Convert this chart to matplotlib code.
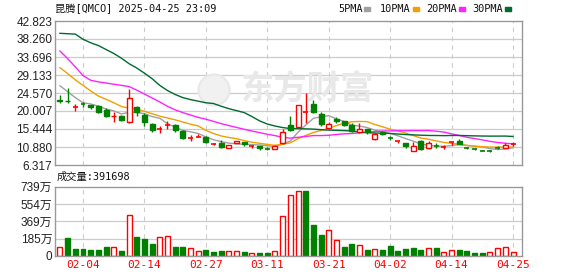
import matplotlib.pyplot as plt
from matplotlib.patches import Rectangle, Ellipse
import numpy as np

# daily K data, 2025-01-30 .. 2025-04-25 (60 sessions)
opens = [22.75, 22.60, 21.00, 21.80, 21.61, 21.27, 20.26, 18.62, 18.74, 17.22,
         21.10, 19.00, 16.79, 15.40, 16.35, 16.46, 14.94, 13.14, 13.33, 13.49,
         11.50, 11.98, 10.55, 11.89, 12.23, 11.05, 11.22, 10.55, 10.46, 11.82,
         16.38, 15.87, 19.60, 21.70, 19.17, 15.77, 18.06, 17.39, 16.46, 14.68,
         15.36, 13.00, 14.76, 13.25, 12.32, 11.82, 9.94, 12.32, 10.55, 11.30,
         10.75, 12.00, 12.48, 10.62, 10.36, 10.00, 9.94, 10.62, 10.63, 11.58]
highs = [23.99, 25.76, 21.78, 22.36, 21.61, 21.61, 20.77, 19.83, 18.91, 25.58,
         21.27, 19.42, 16.96, 16.20, 17.39, 16.79, 15.11, 14.00, 14.17, 13.67,
         11.85, 12.66, 11.31, 12.40, 12.23, 11.39, 11.22, 10.80, 11.39, 15.36,
         18.74, 21.53, 24.49, 22.80, 19.67, 17.30, 18.40, 17.55, 17.04, 16.89,
         15.36, 14.51, 15.02, 13.67, 12.40, 11.82, 12.23, 12.66, 12.32, 11.82,
         11.39, 12.07, 12.82, 10.85, 10.55, 10.12, 10.12, 11.05, 11.82, 12.23]
lows = [21.96, 22.11, 20.08, 20.94, 20.59, 19.58, 18.56, 17.14, 17.55, 16.89,
        18.82, 16.28, 14.76, 14.51, 15.44, 14.68, 12.99, 12.48, 13.33, 11.82,
        11.35, 10.71, 10.55, 11.89, 11.14, 10.55, 10.12, 10.12, 10.38, 11.64,
        14.94, 15.87, 17.04, 19.42, 16.20, 15.44, 17.04, 16.20, 14.76, 14.51,
        14.17, 12.66, 13.83, 12.66, 11.82, 10.71, 9.79, 10.12, 10.38, 10.71,
        10.29, 11.31, 11.64, 10.30, 10.04, 9.80, 9.62, 10.29, 10.63, 11.14]
closes = [22.60, 22.47, 21.10, 21.70, 21.10, 19.83, 18.82, 18.80, 17.73, 23.22,
          19.67, 17.22, 15.11, 15.52, 16.46, 15.19, 13.24, 13.24, 13.41, 12.07,
          11.57, 10.96, 11.31, 12.40, 11.57, 11.10, 10.55, 10.46, 11.22, 14.60,
          15.19, 21.53, 19.67, 19.67, 16.63, 16.63, 17.39, 16.46, 14.94, 15.52,
          14.68, 14.25, 14.17, 13.16, 12.40, 11.14, 11.05, 10.29, 11.82, 11.22,
          10.80, 12.07, 11.64, 10.55, 10.29, 9.94, 9.87, 10.55, 11.31, 11.64]

# volume in 万 shares, and whether the bar is drawn as "up" (red)
volumes = [92, 192, 75, 75, 64, 64, 96, 96, 53, 434,
           203, 181, 128, 199, 210, 96, 96, 82, 50, 64,
           43, 50, 50, 50, 43, 28, 28, 28, 50, 423,
           647, 690, 697, 331, 224, 274, 167, 96, 128, 121,
           64, 71, 64, 107, 53, 75, 85, 64, 82, 82,
           39, 60, 64, 53, 32, 32, 39, 82, 92, 39.1698]
vol_up = [1, 0, 0, 0, 0, 0, 0, 1, 0, 1,
          0, 0, 0, 1, 1, 0, 0, 1, 1, 0,
          0, 0, 1, 1, 0, 1, 0, 0, 1, 1,
          1, 1, 0, 0, 0, 1, 1, 0, 0, 1,
          0, 1, 0, 0, 0, 0, 0, 0, 1, 0,
          1, 1, 0, 0, 0, 0, 1, 1, 1, 1]

ma5 = [26.4, 24.9, 23.4, 22.1, 21.79, 21.24, 20.51, 20.05, 19.26, 19.68,
       19.65, 19.33, 18.59, 18.15, 16.80, 15.90, 15.10, 14.73, 14.31, 13.43,
       12.71, 12.25, 11.86, 11.66, 11.56, 11.47, 11.39, 11.22, 10.98, 11.59,
       12.40, 14.60, 16.44, 18.13, 18.54, 18.83, 18.00, 17.36, 16.41, 16.19,
       15.80, 15.17, 14.71, 14.36, 13.73, 13.02, 12.38, 11.61, 11.34, 11.10,
       11.04, 11.24, 11.51, 11.26, 11.07, 10.90, 10.46, 10.24, 10.39, 10.66]
ma10 = [31.0, 29.5, 27.9, 26.5, 25.1, 23.8, 22.97, 22.11, 21.15, 20.74,
        20.44, 19.92, 19.32, 18.70, 18.24, 17.77, 17.22, 16.66, 16.23, 15.11,
        14.30, 13.68, 13.30, 12.99, 12.50, 12.09, 11.82, 11.54, 11.32, 11.57,
        11.94, 12.99, 13.83, 14.56, 15.06, 15.62, 16.30, 16.90, 17.27, 17.36,
        17.31, 16.58, 16.03, 15.38, 14.96, 14.41, 13.78, 13.16, 12.85, 12.42,
        12.03, 11.81, 11.56, 11.30, 11.09, 10.97, 10.85, 10.88, 10.82, 10.87]
ma20 = [35.2, 33.3, 31.2, 29.0, 27.8, 27.4, 27.1, 26.8, 26.5, 26.2,
        25.3, 24.3, 23.3, 22.3, 21.2, 20.3, 19.6, 19.0, 18.4, 17.93,
        17.37, 16.80, 16.31, 15.84, 15.37, 14.93, 14.52, 14.10, 13.77, 13.34,
        13.12, 13.34, 13.56, 13.77, 13.78, 13.85, 14.06, 14.22, 14.30, 14.47,
        14.62, 14.79, 14.93, 14.97, 15.01, 15.01, 15.04, 15.03, 15.06, 14.89,
        14.67, 14.20, 13.80, 13.34, 13.02, 12.69, 12.31, 12.02, 11.84, 11.64]
ma30 = [39.7, 39.6, 39.5, 38.2, 37.3, 36.6, 35.6, 34.6, 33.4, 32.0,
        30.9, 29.6, 28.2, 26.5, 25.2, 24.2, 23.4, 22.9, 22.5, 22.1,
        21.9, 21.2, 20.6, 20.1, 19.6, 18.6, 17.5, 16.7, 16.2, 15.81,
        15.56, 15.53, 15.48, 15.41, 15.27, 15.16, 15.11, 15.03, 14.94, 14.68,
        14.52, 14.42, 14.39, 14.31, 14.17, 14.04, 13.96, 13.87, 13.81, 13.79,
        13.76, 13.80, 13.81, 13.75, 13.70, 13.66, 13.64, 13.64, 13.65, 13.55]

price_ticks = [6.317, 10.880, 15.444, 20.007, 24.570, 29.133, 33.696, 38.260, 42.823]
price_labels = ['6.317', '10.880', '15.444', '20.007', '24.570', '29.133', '33.696', '38.260', '42.823']
vol_ticks = [0, 184.75, 369.5, 554.25, 739]
vol_labels = ['0', '185万', '369万', '554万', '739万']
date_pos = [3, 11, 19, 27, 35, 43, 51, 59]
date_labels = ['02-04', '02-14', '02-27', '03-11', '03-21', '04-02', '04-14', '04-25']

ma_names = ['5PMA', '10PMA', '20PMA', '30PMA']
ma_colors = ['#a0a0a0', '#f0a000', '#ff22ff', '#006a30']

RED = '#ff0000'
GREEN = '#008000'
mono = ['DejaVu Sans Mono', 'Noto Sans CJK SC']
sans = ['Liberation Sans', 'Noto Sans CJK SC']

W, H = 578, 276
fig = plt.figure(figsize=(W / 100, H / 100), dpi=100)


def px_axes(l, t, r, b):
    return fig.add_axes([l / W, 1 - b / H, (r - l) / W, (b - t) / H])


ax = px_axes(55, 21, 522, 165)
vax = px_axes(55, 186.7, 522, 256)

x = np.arange(len(closes))
xlim = (-0.646, 60.17)
bw = 0.65

for a in (ax, vax):
    a.set_xlim(*xlim)
    for s in a.spines.values():
        s.set_color('#999999')
        s.set_linewidth(1)
    a.tick_params(length=0)
    for p in date_pos:
        a.axvline(p, color='#cccccc', lw=0.8, ls=(0, (4, 4)), zorder=0)

# main price panel
ax.set_ylim(price_ticks[0], price_ticks[-1])
ax.set_yticks(price_ticks)
ax.set_yticklabels(price_labels, fontfamily=sans, fontsize=8.5, color='#222222')
ax.tick_params(axis='y', pad=2)
ax.set_xticks([])
for t in price_ticks[1:-1]:
    ax.axhline(t, color='#cccccc', lw=0.9, zorder=0)

# watermark
ax.text(0.54, 0.52, '东方财富', transform=ax.transAxes, ha='center', va='center',
        fontsize=24, fontweight='bold', family='Noto Sans CJK SC',
        color='#e8e8e8', zorder=0.5)
ax.add_patch(Ellipse(((214 - 55) / 467, (165 - 90) / 144), 31 / 467, 31 / 144,
                     transform=ax.transAxes, facecolor='#f1f1f1',
                     edgecolor='#e8e8e8', lw=1.5, zorder=0.5))

for i in x:
    o, h, l, c = opens[i], highs[i], lows[i], closes[i]
    up = c >= o
    col = RED if up else GREEN
    ax.vlines(i, l, h, color=col, lw=1, zorder=2)
    if abs(c - o) < 0.12:
        ax.hlines(c, i - bw / 2, i + bw / 2, color=col, lw=1.2, zorder=3)
    else:
        ax.add_patch(Rectangle((i - bw / 2, min(o, c)), bw, abs(c - o),
                               facecolor='white' if up else GREEN,
                               edgecolor=col, lw=1, zorder=3))

for ma, colr in zip([ma5, ma10, ma20, ma30], ma_colors):
    ax.plot(x, ma, color=colr, lw=1, zorder=1.5)

# volume panel
vax.set_ylim(0, 739)
vax.set_yticks(vol_ticks)
vax.set_yticklabels(vol_labels, fontfamily=sans, fontsize=8.5, color='#222222')
vax.tick_params(axis='y', pad=2)
for t in vol_ticks[1:-1]:
    vax.axhline(t, color='#cccccc', lw=0.9, zorder=0)
vax.bar(x, volumes, width=bw,
        color=['white' if u else GREEN for u in vol_up],
        edgecolor=[RED if u else GREEN for u in vol_up], lw=1, zorder=2)
vax.set_xticks(date_pos)
vax.set_xticklabels(date_labels, fontfamily=mono, fontsize=8, color=RED)
vax.tick_params(axis='x', pad=3)

# header texts
fig.text(55 / W, 1 - 9 / H, '昆腾[QMCO] 2025-04-25 23:09', fontfamily=mono,
         fontsize=7.4, va='center', ha='left', color='#111111')
fig.text(57 / W, 1 - 177 / H, '成交量:391698', fontfamily=mono,
         fontsize=7.4, va='center', ha='left', color='#111111')
leg_x = [338, 380, 426, 472]
sq_x = [367, 416, 462, 508]
for name, colr, tx, sx in zip(ma_names, ma_colors, leg_x, sq_x):
    fig.text(tx / W, 1 - 9 / H, name, fontfamily=mono, fontsize=7.4,
             va='center', ha='left', color='#111111')
    fig.add_artist(Rectangle(((sx - 3) / W, 1 - 10.5 / H), 6 / W, 3.5 / H,
                             transform=fig.transFigure, color=colr))

fig.savefig('out.png', dpi=100)
